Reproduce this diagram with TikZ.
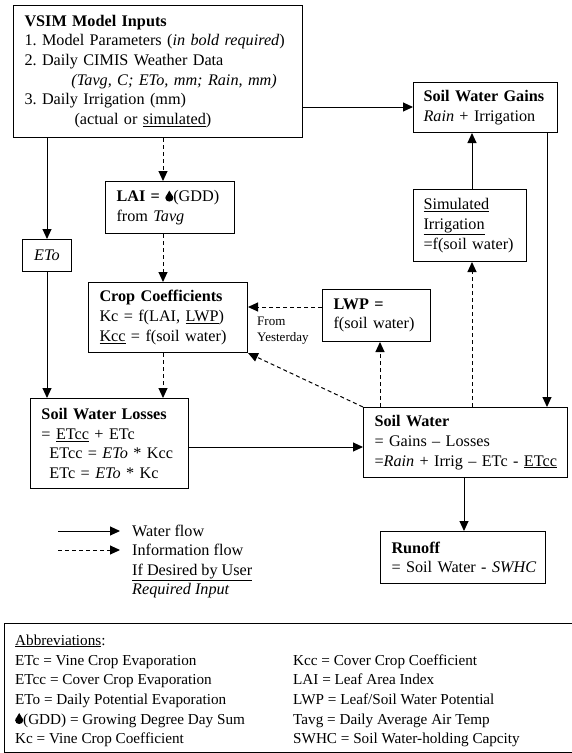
\documentclass[tikz,border=0pt]{standalone}
\usepackage{fontspec}
\setmainfont{Liberation Serif}
\usetikzlibrary{arrows.meta}
\newcommand{\waterdrop}{\tikz[baseline=0pt,x=1pt,y=1pt]\fill (0,11) .. controls (0.8,8) and (4,6) .. (4,3.6) .. controls (4,1.4) and (2.2,0) .. (0,0) .. controls (-2.2,0) and (-4,1.4) .. (-4,3.6) .. controls (-4,6) and (-0.8,8) .. (0,11) -- cycle;}
\tikzset{
  box/.style={draw, line width=1pt, anchor=north west, inner xsep=11pt, inner ysep=0pt, align=left, font=\fontsize{16.2}{19.7}\selectfont\frenchspacing},
  flow/.style={line width=1pt, -{Triangle[width=9pt,length=10pt]}},
  info/.style={flow, dash pattern=on 4pt off 3pt},
  legtext/.style={anchor=base west, inner sep=0pt, font=\fontsize{16.2}{19.7}\selectfont},
  abbtext/.style={anchor=base west, inner sep=0pt, font=\fontsize{15.2}{19.6}\selectfont},
  smalltext/.style={anchor=base west, inner sep=0pt, font=\fontsize{13}{16}\selectfont}
}
\begin{document}
\frenchspacing
\begin{tikzpicture}[x=1pt,y=-1pt]
\useasboundingbox (0,0) rectangle (571,753);
% boxes
\node[box, text width=267pt, minimum height=132pt] (vsim) at (13,5) {\textbf{VSIM Model Inputs}\\
1. Model Parameters (\textit{in bold required})\\
2. Daily CIMIS Weather Data\\
\hspace*{47pt}\textit{(Tavg, C; ETo, mm; Rain, mm)}\\
3. Daily Irrigation (mm)\\
\hspace*{50pt}(actual or \underline{simulated})};
\node[box, text width=124pt, inner xsep=10pt, minimum height=50pt] (gains) at (413,82) {\mbox{\textbf{Soil Water Gains}}\\ \textit{Rain} + Irrigation};
\node[box, text width=93pt, inner xsep=10pt, minimum height=72pt] (simirr) at (413,189) {\underline{Simulated}\\ \underline{Irrigation}\\ \mbox{=f(soil water)}};
\node[box, text width=107pt, minimum height=52pt] (lai) at (105,181) {\textbf{LAI =} \waterdrop(GDD)\\ from \textit{Tavg}};
\node[draw, line width=1pt, anchor=north west, inner sep=0pt, minimum width=49pt, minimum height=32pt, font=\fontsize{16.2}{19.7}\selectfont] (eto) at (22,239) {\textit{ETo}};
\node[box, text width=137pt, minimum height=70pt] (crop) at (88,282) {\textbf{Crop Coefficients}\\ Kc = f(LAI, \underline{LWP})\\ \mbox{\underline{Kcc} = f(soil water)}};
\node[box, text width=86pt, minimum height=52pt] (lwp) at (322,289) {\textbf{LWP =}\\ \mbox{f(soil water)}};
\node[box, text width=136pt, minimum height=90pt] (losses) at (30,398) {\mbox{\textbf{Soil Water Losses}}\\ = \underline{ETcc} + ETc\\ \mbox{\hspace*{8pt}ETcc = \textit{ETo} * Kcc}\\ \hspace*{8pt}ETc = \textit{ETo} * Kc};
\node[box, text width=182pt, minimum height=70pt] (sw) at (363,407) {\textbf{Soil Water}\\ = Gains – Losses\\ \mbox{=\textit{Rain} + Irrig – ETc - \underline{ETcc}}};
\node[box, text width=143pt, minimum height=52pt] (runoff) at (380,531) {\textbf{Runoff}\\ \mbox{= Soil Water - \textit{SWHC}}};
% helper coordinates
\coordinate (xinfo) at (163,0);
\coordinate (xsim) at (472,0);
\coordinate (xg) at (547,0);
\coordinate (xlwp) at (380,0);
\coordinate (xr) at (464,0);
\coordinate (ylwp) at (0,307);
\coordinate (yl) at (0,447);
\coordinate (ygain) at (0,107);
% connectors
\draw[flow] (vsim.south -| eto.north) -- (eto.north);
\draw[flow] (eto.south) -- (eto.south |- losses.north);
\draw[info] (vsim.south -| xinfo) -- (lai.north -| xinfo);
\draw[info] (lai.south -| xinfo) -- (crop.north -| xinfo);
\draw[info] (crop.south -| xinfo) -- (losses.north -| xinfo);
\draw[flow] (vsim.east |- ygain) -- (gains.west |- ygain);
\draw[flow] (simirr.north -| xsim) -- (gains.south -| xsim);
\draw[flow] (gains.south -| xg) -- (sw.north -| xg);
\draw[info] (sw.north -| xsim) -- (simirr.south -| xsim);
\draw[info] (sw.north -| xlwp) -- (lwp.south -| xlwp);
\draw[info] (lwp.west |- ylwp) -- (crop.east |- ylwp);
\draw[info] (sw.north west) -- (crop.south east);
\draw[flow] (losses.east |- yl) -- (sw.west |- yl);
\draw[flow] (sw.south -| xr) -- (runoff.north -| xr);
% From Yesterday
\node[smalltext] (fy1) at (257,325) {From};
\node[smalltext] (fy2) at (257,341) {Yesterday};
% legend
\coordinate (l1s) at (58,531);
\coordinate (l1e) at (120,531);
\coordinate (l2s) at (58,550);
\coordinate (l2e) at (120,550);
\draw[flow] (l1s) -- (l1e);
\draw[info] (l2s) -- (l2e);
\node[legtext] (lg1) at (132,536) {Water flow};
\node[legtext] (lg2) at (132,555.5) {Information flow};
\node[legtext] (lg3) at (132,575) {\underline{If Desired by User}};
\node[legtext] (lg4) at (132,594.5) {\textit{Required Input}};
% abbreviations
\node[draw, line width=1pt, anchor=north west, minimum width=580pt, minimum height=129pt, inner sep=0pt] (abbr) at (4,623) {};
\node[abbtext] (a0) at (15,645) {\underline{Abbreviations}:};
\node[abbtext] (a1) at (15,665) {ETc = Vine Crop Evaporation};
\node[abbtext] (a2) at (15,684) {ETcc = Cover Crop Evaporation};
\node[abbtext] (a3) at (15,704) {ETo = Daily Potential Evaporation};
\node[abbtext] (a4) at (15,724) {\waterdrop(GDD) = Growing Degree Day Sum};
\node[abbtext] (a5) at (15,743) {Kc = Vine Crop Coefficient};
\node[abbtext] (b1) at (293,665) {Kcc = Cover Crop Coefficient};
\node[abbtext] (b2) at (293,684) {LAI = Leaf Area Index};
\node[abbtext] (b3) at (293,704) {LWP = Leaf/Soil Water Potential};
\node[abbtext] (b4) at (293,724) {Tavg = Daily Average Air Temp};
\node[abbtext] (b5) at (293,743) {SWHC = Soil Water-holding Capcity};
\end{tikzpicture}
\end{document}
